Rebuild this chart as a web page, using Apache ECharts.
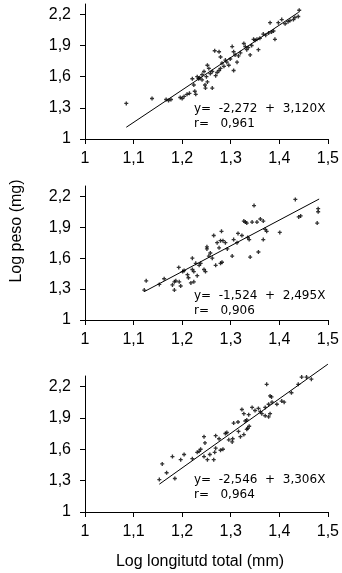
<!DOCTYPE html>
<html><head><meta charset="utf-8">
<script src="https://cdn.jsdelivr.net/npm/echarts@6/dist/echarts.min.js"></script>
<style>html,body{margin:0;padding:0;background:#fff}#c{width:342px;height:573px}</style>
</head><body><div id="c"></div>
<script>
// ---- data ----
const xTicks = [1, 1.1, 1.2, 1.3, 1.4, 1.5];
const yTicks = [1, 1.3, 1.6, 1.9, 2.2];
const yAxisTitle = 'Log peso (mg)';
const xAxisTitle = 'Log longitutd total (mm)';

const p1x = [1.085,1.138,1.167,1.172,1.177,1.196,1.200,1.204,1.210,1.215,1.221,1.224,1.226,1.228,1.231,1.234,1.236,1.241,1.247,1.248,1.252,1.262,1.241,1.245,1.250,1.252,1.255,1.258,1.262,1.269,1.272,1.276,1.279,1.267,1.276,1.279,1.282,1.286,1.289,1.292,1.296,1.299,1.303,1.306,1.309,1.313,1.306,1.316,1.320,1.327,1.330,1.333,1.336,1.340,1.343,1.347,1.354,1.357,1.350,1.360,1.367,1.372,1.378,1.381,1.384,1.388,1.391,1.398,1.405,1.412,1.418,1.422,1.429,1.432,1.439,1.441];
const p1y = [1.343,1.39,1.38,1.37,1.38,1.40,1.39,1.41,1.43,1.44,1.58,1.52,1.46,1.43,1.60,1.58,1.59,1.57,1.52,1.49,1.55,1.49,1.62,1.65,1.60,1.71,1.68,1.63,1.65,1.61,1.64,1.66,1.68,1.85,1.84,1.79,1.73,1.70,1.76,1.74,1.71,1.77,1.89,1.84,1.81,1.74,1.66,1.80,1.83,1.92,1.89,1.86,1.88,1.81,1.90,1.96,1.96,1.86,1.95,1.97,2.01,2.00,2.02,2.12,2.03,2.04,1.96,2.12,2.15,2.11,2.13,2.14,2.15,2.17,2.18,2.24];

const p2x = [1.122,1.126,1.153,1.163,1.180,1.184,1.187,1.194,1.184,1.197,1.193,1.201,1.204,1.211,1.213,1.221,1.224,1.218,1.224,1.231,1.221,1.228,1.235,1.238,1.245,1.248,1.251,1.251,1.258,1.255,1.262,1.265,1.272,1.276,1.279,1.282,1.279,1.269,1.281,1.284,1.289,1.293,1.303,1.306,1.313,1.315,1.323,1.327,1.330,1.333,1.335,1.338,1.340,1.348,1.344,1.354,1.361,1.367,1.371,1.374,1.357,1.367,1.401,1.433,1.440,1.444,1.480,1.480,1.478];
const p2y = [1.29,1.38,1.345,1.40,1.34,1.37,1.38,1.37,1.29,1.33,1.51,1.47,1.48,1.44,1.41,1.49,1.47,1.36,1.37,1.43,1.60,1.55,1.53,1.55,1.49,1.47,1.71,1.69,1.65,1.62,1.60,1.82,1.75,1.70,1.77,1.56,1.55,1.53,1.86,1.77,1.75,1.69,1.62,1.78,1.75,1.84,1.82,1.96,1.95,1.94,1.80,1.78,1.61,2.11,1.95,1.95,1.98,1.96,1.88,1.86,1.66,1.78,1.85,2.17,2.00,2.01,2.08,2.05,1.94];

const p3x = [1.153,1.159,1.168,1.180,1.185,1.197,1.204,1.221,1.231,1.235,1.238,1.245,1.247,1.245,1.252,1.257,1.265,1.267,1.269,1.269,1.276,1.279,1.284,1.289,1.292,1.296,1.303,1.304,1.306,1.315,1.316,1.323,1.327,1.330,1.333,1.337,1.333,1.335,1.338,1.327,1.320,1.344,1.350,1.357,1.361,1.364,1.371,1.374,1.378,1.381,1.384,1.385,1.378,1.371,1.381,1.395,1.405,1.410,1.425,1.439,1.446,1.456,1.466];
const p3y = [1.31,1.46,1.375,1.53,1.32,1.50,1.55,1.51,1.57,1.58,1.60,1.72,1.66,1.53,1.50,1.55,1.50,1.57,1.61,1.73,1.70,1.59,1.60,1.75,1.76,1.69,1.67,1.70,1.85,1.86,1.77,1.98,1.94,1.87,1.88,1.93,1.79,1.80,1.82,1.74,1.72,2.00,1.97,1.99,1.96,1.94,2.00,2.22,2.03,2.11,2.10,2.05,1.91,1.92,1.94,2.03,2.06,2.05,2.14,2.22,2.29,2.29,2.27];

const intercepts = [-2.272, -1.524, -2.546];
const slopes = [3.120, 2.495, 3.306];
const fitStart = [1.085, 1.122, 1.153];
const fitEnd = [1.440, 1.482, 1.500];
const rValues = ['0,961', '0,906', '0,964'];
const eqTexts = ['y=  -2,272  +  3,120X', 'y=  -1,524  +  2,495X', 'y=  -2,546  +  3,306X'];

// ---- chart ----
const fmt = v => String(+(+v).toFixed(1)).replace('.', ',');
const grids = [
  {left: 85, width: 245, top: 4, height: 135},
  {left: 85, width: 245, top: 186, height: 134},
  {left: 85, width: 245, top: 376, height: 136}
];
const eqPos = [[194, 110], [194, 297], [194, 481]];
const pts = [[p1x, p1y], [p2x, p2y], [p3x, p3y]];
const axisCommon = {
  axisLine: {lineStyle: {color: '#000', width: 1}},
  axisTick: {lineStyle: {color: '#000'}, length: 5, inside: false},
  splitLine: {show: false},
  axisLabel: {color: '#000', fontSize: 16, fontFamily: 'Liberation Sans, Arial', formatter: fmt}
};
const xAxes = [], yAxes = [], series = [], graphic = [];
grids.forEach((g, i) => {
  xAxes.push(Object.assign({}, axisCommon, {
    type: 'value', gridIndex: i, min: 1, max: 1.5,
    axisTick: Object.assign({}, axisCommon.axisTick, {customValues: xTicks}),
    axisLabel: Object.assign({}, axisCommon.axisLabel, {customValues: xTicks, margin: 12})
  }));
  yAxes.push(Object.assign({}, axisCommon, {
    type: 'value', gridIndex: i, min: 1, max: 2.3,
    axisTick: Object.assign({}, axisCommon.axisTick, {customValues: yTicks}),
    axisLabel: Object.assign({}, axisCommon.axisLabel, {customValues: yTicks, margin: 14})
  }));
  const [xs, ys] = pts[i];
  series.push({
    type: 'scatter', xAxisIndex: i, yAxisIndex: i,
    data: xs.map((x, k) => [x, ys[k]]),
    symbol: 'path://M1,0H2V1H3V2H2V3H1V2H0V1H1Z', symbolSize: 4,
    itemStyle: {color: '#000'}, silent: true
  });
  series.push({
    type: 'line', xAxisIndex: i, yAxisIndex: i, clip: false,
    data: [fitStart[i], fitEnd[i]].map(x => [x, intercepts[i] + slopes[i] * x]),
    symbol: 'none', lineStyle: {color: '#000', width: 1}, silent: true
  });
  graphic.push({type: 'text', left: eqPos[i][0], top: eqPos[i][1] - 7,
    style: {text: eqTexts[i], fill: '#000', font: '12px "DejaVu Sans"'}});
  graphic.push({type: 'text', left: eqPos[i][0], top: eqPos[i][1] + 8,
    style: {text: 'r=   ' + rValues[i], fill: '#000', font: '12px "DejaVu Sans"'}});
});
graphic.push({type: 'text', x: 17, y: 231, rotation: Math.PI / 2,
  style: {text: yAxisTitle, fill: '#000', font: '16px "Liberation Sans"', align: 'center', verticalAlign: 'middle'}});
graphic.push({type: 'text', x: 200, y: 562,
  style: {text: xAxisTitle, fill: '#000', font: '16px "Liberation Sans"', align: 'center', verticalAlign: 'middle'}});

const chart = echarts.init(document.getElementById('c'), null, {renderer: 'canvas'});
chart.setOption({
  backgroundColor: '#fff', animation: false,
  grid: grids, xAxis: xAxes, yAxis: yAxes, series: series, graphic: graphic
});
</script></body></html>
